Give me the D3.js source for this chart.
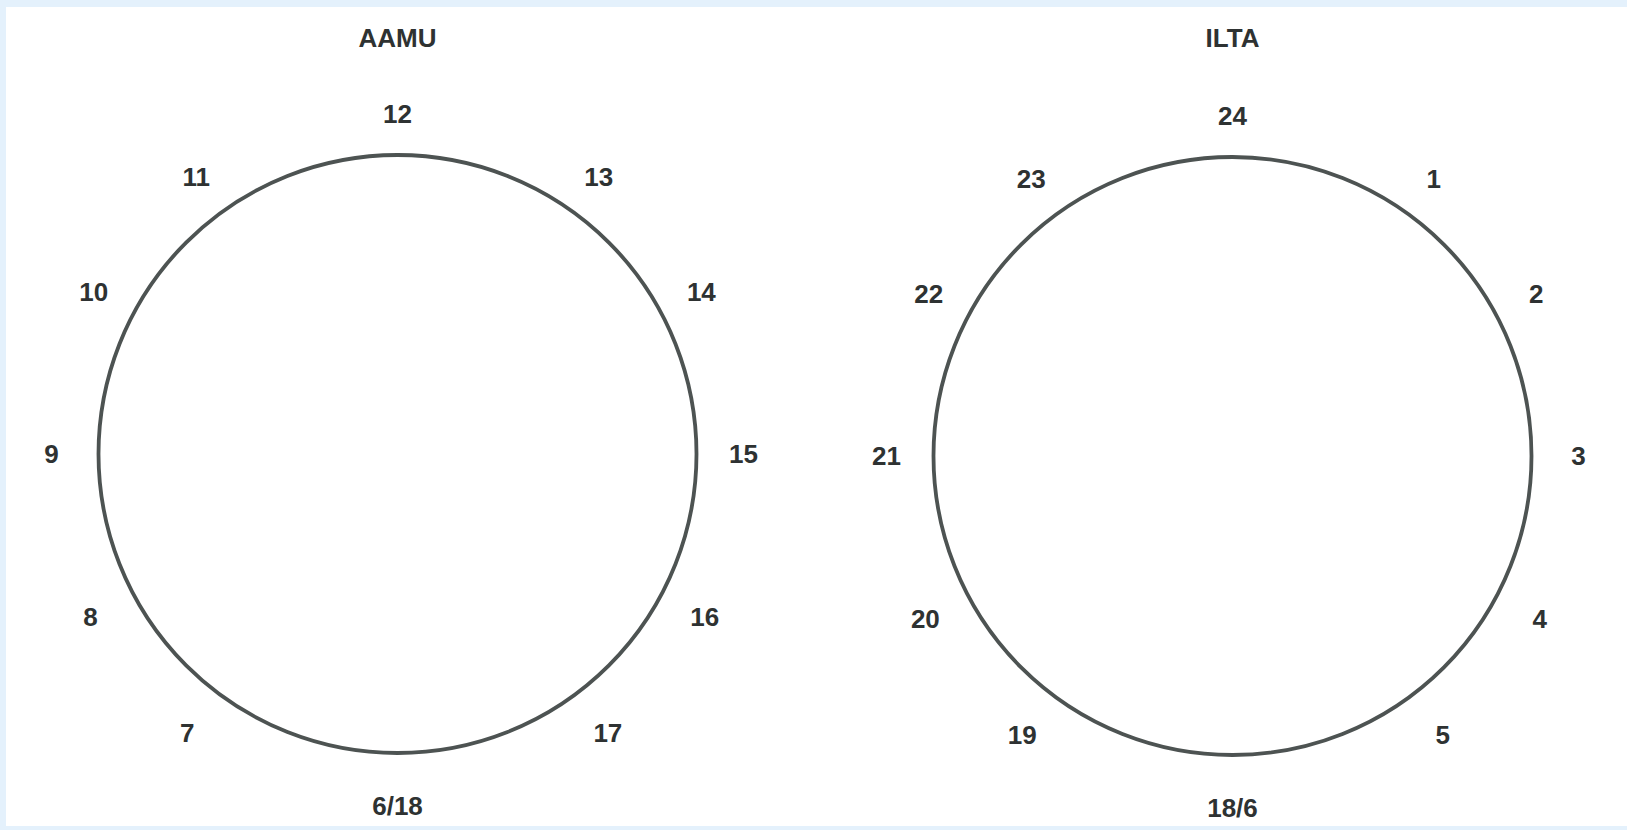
<!DOCTYPE html>
<html>
<head>
<meta charset="utf-8">
<script src="https://cdn.jsdelivr.net/npm/d3@7"></script>
<style>
  html, body { margin: 0; padding: 0; background: #e4f1fc; }
  svg { display: block; }
</style>
</head>
<body>
<div id="chart"></div>
<script>
// Datos: titulos de los dos relojes y sus etiquetas (empezando arriba, sentido horario)
const panels = ["AAMU", "ILTA"];
const aamuLabels = ["12", "13", "14", "15", "16", "17", "6/18", "7", "8", "9", "10", "11"];
const iltaLabels = ["24", "1", "2", "3", "4", "5", "18/6", "19", "20", "21", "22", "23"];
const labelsByPanel = { AAMU: aamuLabels, ILTA: iltaLabels };

const width = 1627;
const height = 830;

const svg = d3.select("#chart")
    .append("svg")
    .attr("width", width)
    .attr("height", height);

// Fondo: borde azul claro y hoja blanca
svg.append("rect")
    .attr("width", width)
    .attr("height", height)
    .attr("fill", "#e4f1fc");

svg.append("rect")
    .attr("x", 6)
    .attr("y", 7)
    .attr("width", width - 6)
    .attr("height", height - 7 - 4)
    .attr("fill", "#ffffff");

// Escalas
const xScale = d3.scalePoint().domain(panels).range([397.5, 1232.5]);
const cy = { AAMU: 454, ILTA: 456 };
const radius = 299;

// posicion en el reloj (0..6) -> angulo en grados (el dibujo no es regular)
const angleScale = d3.scaleLinear()
    .domain([0, 1, 2, 3, 4, 5, 6])
    .range([0, 36, 62, 90, 118, 143, 180]);
// las etiquetas de abajo quedan algo mas lejos del circulo
const labelRadius = d3.scaleLinear().domain([0, 180]).range([340, 352]);

function angleOf(i) {
    return i <= 6 ? angleScale(i) : 360 - angleScale(12 - i);
}

panels.forEach(p => {
    const cx = xScale(p);
    const g = svg.append("g").attr("transform", `translate(${cx},${cy[p]})`);

    g.append("circle")
        .attr("r", radius)
        .attr("fill", "none")
        .attr("stroke", "#4d5352")
        .attr("stroke-width", 3.8);

    g.selectAll("text.hour")
        .data(labelsByPanel[p])
        .enter()
        .append("text")
        .attr("class", "hour")
        .attr("x", (d, i) => {
            const a = angleOf(i) * Math.PI / 180;
            return Math.sin(a) * labelRadius(Math.min(angleOf(i), 360 - angleOf(i)));
        })
        .attr("y", (d, i) => {
            const a = angleOf(i) * Math.PI / 180;
            return -Math.cos(a) * labelRadius(Math.min(angleOf(i), 360 - angleOf(i)));
        })
        .attr("text-anchor", "middle")
        .attr("dominant-baseline", "central")
        .style("font-family", "'Liberation Sans', Arial, sans-serif")
        .style("font-weight", "bold")
        .style("font-size", "26px")
        .attr("fill", "#2e3232")
        .text(d => d);

    // Titulo
    svg.append("text")
        .attr("x", cx)
        .attr("y", 38)
        .attr("text-anchor", "middle")
        .attr("dominant-baseline", "central")
        .style("font-family", "'Liberation Sans', Arial, sans-serif")
        .style("font-weight", "bold")
        .style("font-size", "26px")
        .attr("fill", "#2e3232")
        .text(p);
});
</script>
</body>
</html>
